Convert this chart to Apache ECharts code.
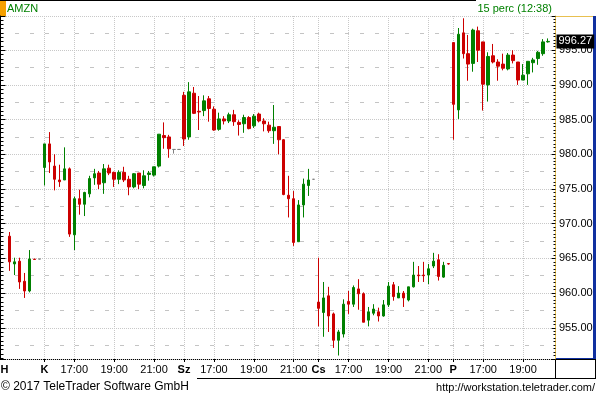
<!DOCTYPE html>
<html><head><meta charset="utf-8">
<script src="https://cdn.jsdelivr.net/npm/echarts@6/dist/echarts.min.js"></script>
<style>html,body{margin:0;padding:0;background:#fff;}#c{width:596px;height:396px;}</style>
</head><body><div id="c"></div>
<script>
// 15-minute slots (index 0..110)
const opens = [null,
 968.2,964.2,964.6,961.7,960.3,964.9,964.9,978.1,981.5,978.3,
 976.3,976.3,977.9,968.4,973.6,972.8,974.3,976.6,977.3,975.9,
 978.0,977.4,976.4,977.4,976.4,975.3,977.3,975.5,977.1,977.0,
 978.3,982.7,982.5,980.7,980.7,988.5,982.5,988.8,986.2,986.3,
 988.0,986.5,983.6,985.1,984.8,985.7,984.6,984.4,985.3,984.1,
 985.8,984.8,984.2,983.4,984.0,982.1,974.1,973.6,967.4,972.7,
 975.5,976.4,958.7,957.2,959.6,957.0,953.2,954.1,958.8,958.4,
 960.6,959.9,956.1,957.1,957.3,956.7,958.3,961.2,959.3,960.0,
 959.0,960.9,962.6,962.6,962.6,963.9,964.8,962.3,964.25,996.1,
 986.4,997.5,994.5,993.1,997.8,996.2,990.0,994.2,993.3,993.0,
 992.3,994.3,993.3,990.7,991.6,993.2,993.8,994.5,996.2,null];
const closes = [null,
 964.5,964.5,961.6,960.3,964.9,964.85,964.9,981.5,978.9,976.4,
 976.05,977.9,968.5,973.6,972.8,974.5,976.5,977.2,975.7,977.9,
 977.3,976.4,977.4,976.3,975.3,977.2,975.7,976.9,977.3,978.2,
 982.9,982.4,980.8,980.7,980.7,982.2,989.0,985.9,986.1,987.7,
 986.6,983.5,985.1,984.8,985.7,984.7,984.3,985.3,983.7,985.5,
 984.8,984.4,983.4,983.9,982.1,974.2,973.6,967.3,972.7,975.7,
 976.3,976.4,957.8,959.3,956.7,953.2,954.4,958.4,958.4,960.8,
 959.9,955.8,957.3,957.7,956.7,958.3,961.0,959.5,960.0,959.3,
 960.9,962.6,962.5,962.5,963.5,964.6,962.4,964.0,964.2,987.2,
 997.3,994.5,993.0,997.9,995.0,990.1,994.1,993.3,992.7,992.4,
 994.3,993.5,990.7,991.4,993.4,993.6,994.7,996.2,996.27,null];
const lows = [null,
 963.2,962.6,960.6,959.3,960.1,964.85,964.9,975.5,977.3,974.8,
 975.3,976.3,968.1,966.2,971.3,971.1,973.8,975.6,975.0,974.3,
 977.0,975.3,975.7,976.0,974.1,975.1,975.0,975.1,976.2,976.8,
 978.1,980.8,979.5,980.1,980.7,981.2,982.1,985.8,983.5,985.5,
 984.7,983.4,983.4,984.3,984.5,984.1,982.7,983.1,983.6,983.8,
 984.6,983.3,983.1,981.5,980.0,974.1,970.9,966.8,967.4,970.9,
 974.0,976.4,955.2,953.7,954.4,952.1,951.0,953.6,957.0,958.0,
 957.6,955.8,955.2,956.8,955.9,956.6,958.0,958.9,959.3,958.0,
 958.8,960.8,961.6,961.6,961.3,963.6,961.8,962.2,964.1,982.1,
 985.1,993.8,990.6,991.9,993.3,986.3,987.6,993.1,990.6,992.1,
 992.1,993.1,990.0,990.7,990.0,991.8,992.9,994.2,996.1,null];
const highs = [null,
 968.8,965.1,965.1,962.9,966.2,964.9,964.9,981.5,983.2,980.0,
 978.5,981.0,978.1,973.9,974.9,974.6,976.9,977.9,977.6,978.6,
 978.5,977.5,977.7,978.2,976.9,977.3,977.3,977.7,977.6,978.2,
 982.9,984.6,982.8,980.7,980.7,989.0,990.4,989.7,988.4,988.5,
 988.4,986.9,986.0,985.5,986.0,986.4,984.9,985.7,985.5,985.8,
 986.0,985.2,984.7,987.1,984.0,982.2,976.9,974.7,973.4,976.5,
 977.9,976.4,965.1,961.6,960.9,957.2,954.7,959.1,960.3,961.1,
 962.0,960.1,958.0,958.4,957.9,959.0,961.6,961.6,961.0,960.3,
 960.9,964.5,963.9,964.5,964.2,965.8,965.6,964.5,964.25,996.1,
 998.2,999.6,997.2,998.1,998.4,996.2,994.7,995.9,993.7,994.5,
 994.6,995.0,993.3,993.0,993.4,993.9,994.9,996.6,996.7,null];
const afterHours = [7, 34, 35, 62];
const tickIndex = [0, 8, 14, 22, 30, 36, 42, 50, 58, 63, 69, 77, 85, 90, 96, 104];
const tickText  = ['H','K','17:00','19:00','21:00','Sz','17:00','19:00','21:00','Cs','17:00','19:00','21:00','P','17:00','19:00'];
const dayLabels = ['H','K','Sz','Cs','P'];
const lastPrice = 996.27;

const categories = opens.map((_, i) => String(i));
const grayStyle = {color:'#808080', color0:'#808080', borderColor:'#808080', borderColor0:'#808080', borderColorDoji:'#808080'};
const data = opens.map((o, i) => o == null ? '-' :
  (afterHours.includes(i) ? {value:[o, closes[i], lows[i], highs[i]], itemStyle: grayStyle}
                          : [o, closes[i], lows[i], highs[i]]));
const tickMap = {};
tickIndex.forEach((ix, k) => { tickMap[ix] = tickText[k]; });

const Y_MIN = 950.5, Y_MAX = 999.93;
const FONT = '"Liberation Sans", Arial, sans-serif';
const GRID_GRAY = '#c8c8c8';

const chart = echarts.init(document.getElementById('c'), null, {renderer: 'canvas'});
chart.setOption({
  animation: false,
  backgroundColor: '#ffffff',
  textStyle: {fontFamily: FONT},
  grid: {left: 2, top: 16, width: 553.5, height: 343, containLabel: false, outerBoundsMode: 'none'},
  xAxis: {
    type: 'category', data: categories, boundaryGap: true,
    axisLine: {show: false},
    axisTick: {show: true, alignWithLabel: true, length: 3,
      interval: (i) => (i in tickMap) && i > 0, lineStyle: {color: '#000'}},
    axisLabel: {
      interval: (i) => (i in tickMap), margin: 5, color: '#000', fontSize: 11, fontFamily: FONT,
      formatter: (v, i) => { const t = tickMap[i] || ''; return dayLabels.includes(t) ? '{b|' + t + '}' : t; },
      rich: {b: {fontWeight: 'bold', fontSize: 11, color: '#000', fontFamily: FONT}}
    },
    splitLine: {show: false}
  },
  yAxis: [
    {
      type: 'value', position: 'right', min: Y_MIN, max: Y_MAX, minInterval: 5, maxInterval: 5,
      axisLine: {show: true, lineStyle: {color: '#e8c050', width: 1}},
      axisTick: {show: true, inside: true, length: 4, lineStyle: {color: '#000'}},
      minorTick: {show: true, splitNumber: 10, length: 2, lineStyle: {color: '#000'}},
      axisLabel: {show: true, color: '#000', fontSize: 11, fontFamily: FONT, margin: 3.5,
        showMinLabel: false, showMaxLabel: false, formatter: (v) => v.toFixed(2)},
      splitLine: {show: true, lineStyle: {color: GRID_GRAY, type: 'dotted', width: 1}}
    },
    {
      type: 'value', position: 'left', offset: 1.5, min: Y_MIN, max: Y_MAX, minInterval: 5, maxInterval: 5,
      axisLine: {show: true, lineStyle: {color: '#000', width: 1}},
      axisTick: {show: true, inside: true, length: 5, lineStyle: {color: '#000'}},
      minorTick: {show: true, splitNumber: 8, length: 3, lineStyle: {color: '#000'}},
      axisLabel: {show: false},
      splitLine: {show: false}
    },
    {
      type: 'value', position: 'left', min: Y_MIN, max: Y_MAX, minInterval: 2.5, maxInterval: 2.5,
      axisLine: {show: false}, axisTick: {show: false}, axisLabel: {show: false},
      splitLine: {show: true, lineStyle: {color: ['rgba(0,0,0,0)', '#c4c4c4'], type: [4, 11], dashOffset: 2, width: 1}}
    }
  ],
  series: [{
    type: 'candlestick', xAxisIndex: 0, yAxisIndex: 0, data: data, barWidth: 3,
    itemStyle: {color: '#008000', color0: '#cc0000', borderColor: '#008000', borderColor0: '#cc0000', borderWidth: 1},
    markLine: {
      z: 1, silent: true, symbol: ['none', 'none'], animation: false,
      data: tickIndex.filter(i => i > 0).map(i => ({xAxis: i,
          lineStyle: {color: GRID_GRAY, type: 'dotted', width: 1}, label: {show: false}}))
        .concat([{yAxis: lastPrice, lineStyle: {color: 'rgba(0,0,0,0)', width: 0},
          label: {show: true, position: 'end', distance: 1, formatter: (p) => Number(p.value).toFixed(2),
            color: '#fff', backgroundColor: '#000', fontSize: 11, fontFamily: FONT, padding: [1, 2, 1, 2], lineHeight: 12}}])
    }
  }],
  graphic: [
    {type: 'rect', shape: {x: 0, y: 0, width: 6, height: 16}, style: {fill: '#f5a000'}},
    {type: 'line', shape: {x1: 0, y1: 0.5, x2: 476, y2: 0.5}, style: {stroke: '#000', lineWidth: 1}},
    {type: 'text', x: 7, y: 9, style: {text: 'AMZN', fill: '#008000', font: '11px ' + FONT,
      align: 'left', textAlign: 'left', verticalAlign: 'middle', textVerticalAlign: 'middle'}},
    {type: 'text', x: 552, y: 9, style: {text: '15 perc (12:38)', fill: '#008000', font: '11px ' + FONT,
      align: 'right', textAlign: 'right', verticalAlign: 'middle', textVerticalAlign: 'middle'}},
    {type: 'line', shape: {x1: 555, y1: 16.5, x2: 593, y2: 16.5}, style: {stroke: '#e8c050', lineWidth: 1}},
    {type: 'rect', shape: {x: 593, y: 16, width: 3, height: 343}, style: {fill: '#1030a0'}},
    {type: 'line', shape: {x1: 555, y1: 358.5, x2: 596, y2: 358.5}, style: {stroke: '#1030a0', lineWidth: 1}},
    {type: 'line', shape: {x1: 0, y1: 359.5, x2: 596, y2: 359.5}, style: {stroke: '#000', lineWidth: 1}},
    {type: 'line', shape: {x1: 197, y1: 378.5, x2: 596, y2: 378.5}, style: {stroke: '#000', lineWidth: 1}},
    {type: 'line', shape: {x1: 555.5, y1: 359, x2: 555.5, y2: 379}, style: {stroke: '#000', lineWidth: 1}},
    {type: 'line', shape: {x1: 595.5, y1: 359, x2: 595.5, y2: 379}, style: {stroke: '#000', lineWidth: 1}},
    {type: 'text', x: 1, y: 387, style: {text: '\u00a9 2017 TeleTrader Software GmbH', fill: '#000', font: '12px ' + FONT,
      align: 'left', textAlign: 'left', verticalAlign: 'middle', textVerticalAlign: 'middle'}},
    {type: 'text', x: 595, y: 388, style: {text: 'http://workstation.teletrader.com/', fill: '#000', font: '11px ' + FONT,
      align: 'right', textAlign: 'right', verticalAlign: 'middle', textVerticalAlign: 'middle'}}
  ]
});
</script>
</body></html>
